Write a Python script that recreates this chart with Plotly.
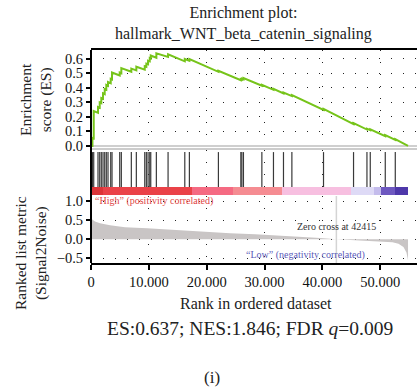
import plotly.graph_objects as go

# ---------------- data ----------------
N_GENES = 54800
ZERO_CROSS = 42415

HIT_RANKS = [250, 470, 1210, 1505, 1780, 2076, 2370, 2647, 2941, 3408, 3633, 4965,
             5242, 6972, 7837, 9291, 9567, 9862, 10156, 10329, 11298, 13322, 16211,
             17007, 22024, 25900, 26073, 26349, 29533, 31540, 33270, 34723, 40190,
             45381, 47699, 48270, 50865, 52595]
ES_BEFORE = [0.000, 0.052, 0.228, 0.263, 0.295, 0.325, 0.356, 0.387, 0.414, 0.432,
             0.458, 0.485, 0.500, 0.510, 0.520, 0.525, 0.544, 0.562, 0.582, 0.602,
             0.607, 0.612, 0.582, 0.586, 0.510, 0.452, 0.456, 0.458, 0.414, 0.386,
             0.362, 0.343, 0.248, 0.150, 0.113, 0.109, 0.068, 0.041]
ES_AFTER = [0.055, 0.240, 0.268, 0.300, 0.330, 0.362, 0.392, 0.420, 0.440, 0.462,
            0.505, 0.505, 0.535, 0.532, 0.545, 0.548, 0.566, 0.586, 0.605, 0.622,
            0.637, 0.630, 0.598, 0.598, 0.517, 0.459, 0.463, 0.467, 0.421, 0.393,
            0.368, 0.350, 0.255, 0.157, 0.119, 0.115, 0.074, 0.047]
ES_START = 0.0
ES_END = 0.0

METRIC_RANK = [0, 170, 690, 1560, 3290, 5880, 9690, 14530, 19720, 24050, 28370,
               32700, 36160, 39620, 42415, 46570, 50030, 52100, 53150, 54010, 54530, 54800]
METRIC_VALUE = [0.56, 0.53, 0.47, 0.42, 0.37, 0.32, 0.29, 0.24, 0.19, 0.16, 0.13,
                0.10, 0.07, 0.035, 0.0, -0.03, -0.05, -0.08, -0.12, -0.20, -0.35, -0.55]

STRIP_EDGES = [0, 2000, 17500, 24600, 33000, 45000, 49000, 50200, 52600, 54800]
STRIP_COLORS = ['#dc3438', '#ea4248', '#f56a82', '#f58c92', '#f7bfe0',
                '#dedaf6', '#c4bcec', '#6e58c0', '#4e38aa']

X_TICKS = [0, 10000, 20000, 30000, 40000, 50000]
X_TICK_LABELS = ['0', '10.000', '20.000', '30.000', '40.000', '50.000']
ES_TICKS = [0.0, 0.1, 0.2, 0.3, 0.4, 0.5, 0.6]
METRIC_TICKS = [-0.5, 0.0, 0.5, 1.0]

# ---------------- build traces ----------------
es_x = [0]
es_y = [ES_START]
for r, b, a in zip(HIT_RANKS, ES_BEFORE, ES_AFTER):
    es_x += [r, r]
    es_y += [b, a]
es_x.append(N_GENES)
es_y.append(ES_END)

hit_x, hit_y = [], []
for r in HIT_RANKS:
    hit_x += [r, r, None]
    hit_y += [0, 1, None]

FONT = 'Liberation Serif'
H = 392.0


def dom(top_px, bot_px):
    return [1 - bot_px / H, 1 - top_px / H]


fig = go.Figure()
fig.add_trace(go.Scatter(x=es_x, y=es_y, mode='lines', line=dict(color='#76c41a', width=2),
                         xaxis='x', yaxis='y', hoverinfo='skip', showlegend=False))
fig.add_trace(go.Scatter(x=hit_x, y=hit_y, mode='lines', line=dict(color='#3a3a3a', width=1.2),
                         xaxis='x2', yaxis='y2', hoverinfo='skip', showlegend=False))
widths = [STRIP_EDGES[i + 1] - STRIP_EDGES[i] for i in range(len(STRIP_COLORS))]
fig.add_trace(go.Bar(x=widths, base=STRIP_EDGES[:-1], y=[0] * len(widths), orientation='h',
                     width=1, marker=dict(color=STRIP_COLORS, line=dict(width=0)),
                     xaxis='x3', yaxis='y3', hoverinfo='skip', showlegend=False))
fig.add_trace(go.Scatter(x=METRIC_RANK, y=METRIC_VALUE, mode='lines', fill='tozeroy',
                         fillcolor='#c9c5c5', line=dict(width=0, color='#c9c5c5'),
                         xaxis='x4', yaxis='y4', hoverinfo='skip', showlegend=False))

XR = [0, 56350]
grid = dict(showgrid=True, gridcolor='#222222', gridwidth=1.2, griddash='1px,11px')
tickfont = dict(family=FONT, size=14.5, color='#111111')
base = dict(automargin=False)

fig.update_layout(
    width=417, height=392,
    margin=dict(l=91, r=0, t=0, b=0),
    paper_bgcolor='white', plot_bgcolor='white',
    showlegend=False,
    bargap=0,
    xaxis=dict(domain=[0, 1], anchor='y', range=XR, tickvals=X_TICKS, showticklabels=False,
               ticks='', side='top', showline=True, linecolor='black', linewidth=2,
               zeroline=False, **grid, **base),
    yaxis=dict(domain=dom(50, 148), anchor='x', range=[-0.014, 0.66], tickvals=ES_TICKS,
               tickformat='.1f', ticks='outside', ticklen=4, tickwidth=2, tickcolor='black',
               tickfont=tickfont, zeroline=True, zerolinecolor='#cfcfcf', zerolinewidth=1.5,
               showline=False, **grid, **base),
    xaxis2=dict(domain=[0, 1], anchor='y2', range=XR, tickvals=X_TICKS, showticklabels=False,
                ticks='', side='top', showline=True, linecolor='#cccccc', linewidth=1.5,
                zeroline=False, **grid, **base),
    yaxis2=dict(domain=dom(150, 187), anchor='x2', range=[0, 1.06], showticklabels=False,
                showgrid=False, zeroline=False, ticks='', **base),
    xaxis3=dict(domain=[0, 1], anchor='y3', range=XR, showticklabels=False, showgrid=False,
                zeroline=False, ticks='', **base),
    yaxis3=dict(domain=dom(187, 195), anchor='x3', range=[-0.5, 0.5], showticklabels=False,
                showgrid=False, zeroline=False, ticks='', **base),
    xaxis4=dict(domain=[0, 1], anchor='y4', range=XR, tickvals=X_TICKS, ticktext=X_TICK_LABELS,
                ticks='outside', ticklen=5, tickwidth=2, tickcolor='black', tickfont=tickfont,
                showline=True, linecolor='black', linewidth=2, zeroline=False, **grid, **base),
    yaxis4=dict(domain=dom(196, 263), anchor='x4', range=[-0.624, 1.14], tickvals=METRIC_TICKS,
                tickformat='.1f', ticks='outside', ticklen=4, tickwidth=2, tickcolor='black',
                tickfont=tickfont, zeroline=False, showline=False, **grid, **base),
)

# left spine spanning all panels
fig.add_shape(type='line', xref='paper', yref='paper', x0=0, x1=0,
              y0=1 - 263 / H, y1=1 - 50 / H, line=dict(color='black', width=2))
# zero-cross marker line
fig.add_shape(type='line', xref='x4', yref='y4 domain', x0=ZERO_CROSS, x1=ZERO_CROSS,
              y0=0, y1=1, line=dict(color='#d4d4d4', width=1.5), layer='above')


def px_x(p):
    return (p - 91) / 326.0


def px_y(p):
    return 1 - p / H


ann = [
    dict(text='Enrichment plot:<br>hallmark_WNT_beta_catenin_signaling', x=px_x(243), y=px_y(24),
         font=dict(family=FONT, size=16, color='#222222')),
    dict(text='Enrichment<br>score (ES)', x=px_x(36), y=px_y(100), textangle=-90,
         font=dict(family=FONT, size=15.5, color='#222222')),
    dict(text='Ranked list metric<br>(Signal2Noise)', x=px_x(31), y=px_y(253), textangle=-90,
         font=dict(family=FONT, size=15.5, color='#222222')),
    dict(text='Rank in ordered dataset', x=px_x(256), y=px_y(303),
         font=dict(family=FONT, size=16, color='#222222')),
    dict(text='ES:0.637; NES:1.846; FDR <i>q</i>=0.009', x=px_x(250), y=px_y(328),
         font=dict(family=FONT, size=19.5, color='#222222')),
    dict(text='(i)', x=px_x(212), y=px_y(377),
         font=dict(family=FONT, size=17, color='#222222')),
]
for a in ann:
    fig.add_annotation(xref='paper', yref='paper', showarrow=False, xanchor='center',
                       yanchor='middle', align='center', **a)

fig.add_annotation(xref='x4', yref='y4', x=300, y=1.0, xanchor='left', yanchor='middle',
                   showarrow=False, text='\u201cHigh\u201d (positivity correlated)',
                   font=dict(family=FONT, size=10, color='#e04444'))
fig.add_annotation(xref='x4', yref='y4', x=ZERO_CROSS, y=0.33, xanchor='center', yanchor='middle',
                   showarrow=False, text='Zero cross at 42415',
                   font=dict(family=FONT, size=10, color='#333333'))
fig.add_annotation(xref='x4', yref='y4', x=37100, y=-0.41, xanchor='center', yanchor='middle',
                   showarrow=False, text='\u201cLow\u201d (negativity correlated)',
                   font=dict(family=FONT, size=10, color='#5a5ab8'))

fig.write_html('out.html', config={'displayModeBar': False},
               post_script="document.body.style.margin='0';document.body.style.overflow='hidden';")
